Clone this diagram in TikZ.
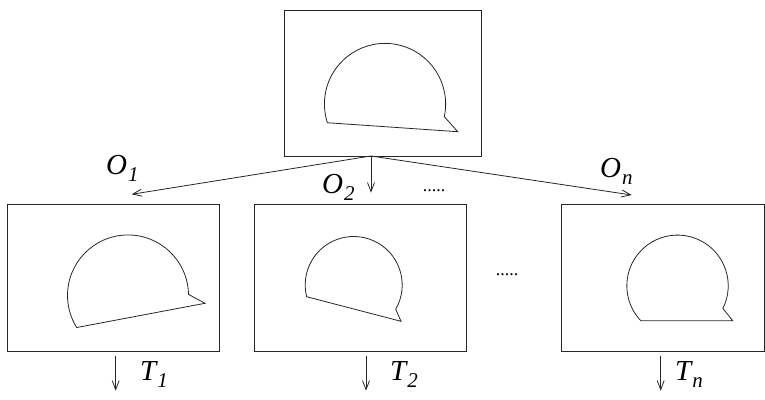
\documentclass[tikz,border=0pt]{standalone}
\usepackage{fontspec}
\setmainfont{Liberation Serif}
\usetikzlibrary{arrows.meta}
\newcommand{\lblsub}[2]{#1\kern1pt\raisebox{-7pt}{\fontsize{21}{21}\selectfont #2}}
\tikzset{
  ln/.style={line width=0.8pt, draw=black!85},
  frame/.style={ln, rectangle, inner sep=0pt},
  arr/.style={ln, -{Straight Barb[length=9pt,width=7pt,line width=0.8pt]}},
  lab/.style={inner sep=0pt, anchor=base west, font=\fontsize{29}{29}\selectfont\itshape},
  dots/.style={inner sep=0pt, font=\fontsize{18}{18}\selectfont},
}
\begin{document}
\begin{tikzpicture}[x=1pt,y=1pt]
\useasboundingbox (0,0) rectangle (765,399);
% boxes
\node[frame, minimum width=197pt, minimum height=146pt] (top) at (382.5,316) {};
\node[frame, minimum width=212pt, minimum height=147pt] (b1) at (113,121.5) {};
\node[frame, minimum width=212pt, minimum height=147pt] (b2) at (360,121.5) {};
\node[frame, minimum width=203.5pt, minimum height=147pt] (b3) at (662.75,121.5) {};
% shapes
\draw[ln] (444.3,282.4) arc[start angle=-12, end angle=198, radius=60.6] -- (457.7,267.3) -- cycle;
\draw[ln] (188.5,104.6) arc[start angle=1, end angle=212, radius=60.5] -- (205,95.7) -- cycle;
\draw[ln] (395.7,89.75) arc[start angle=-30, end angle=194, radius=48.5] -- (401,77.7) -- cycle;
\draw[ln] (722.9,90.6) arc[start angle=-26.5, end angle=223.5, radius=50.7] -- (732.7,78.3) -- cycle;
% connectors
\coordinate (ap) at (371,243);
\coordinate (e1) at (131.7,204.7);
\coordinate (e2) at (371,206.3);
\coordinate (en) at (631.7,204);
\draw[arr] (ap) -- (e1);
\draw[arr] (ap) -- (e2);
\draw[arr] (ap) -- (en);
\coordinate (s1) at (115.7,43.3); \coordinate (t1) at (115.7,8.3);
\coordinate (s2) at (366,43.3); \coordinate (t2) at (366,8.3);
\coordinate (s3) at (660.7,43.3); \coordinate (t3) at (660.7,8.3);
\draw[arr] (s1) -- (t1);
\draw[arr] (s2) -- (t2);
\draw[arr] (s3) -- (t3);
% labels
\node[lab] (lo1) at (106,224) {\lblsub{O}{1}};
\node[lab] (lo2) at (322,205.5) {\lblsub{O}{2}};
\node[lab] (lon) at (600,221) {\lblsub{O}{n}};
\node[lab] (lt1) at (140,19) {\lblsub{T}{1}};
\node[lab] (lt2) at (390,19) {\lblsub{T}{2}};
\node[lab] (ltn) at (675,19) {\lblsub{T}{n}};
\node[dots] (d1) at (434,208) {.....};
\node[dots] (d2) at (507,124) {.....};
\end{tikzpicture}
\end{document}
